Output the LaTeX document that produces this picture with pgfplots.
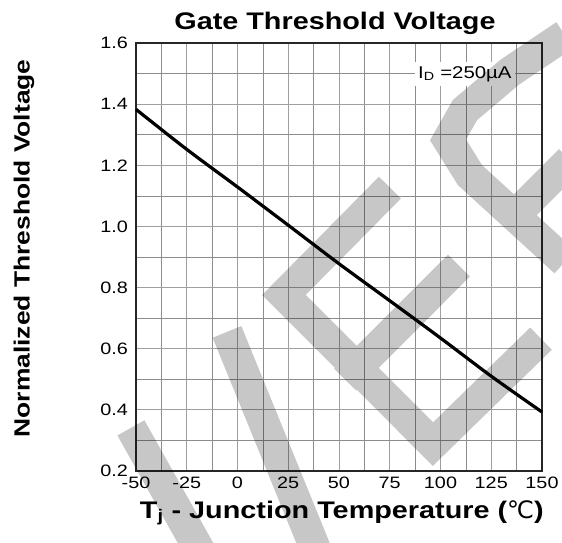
\documentclass[border=0pt]{standalone}
\usepackage{fontspec}
\setmainfont{Liberation Sans}[FakeStretch=1.2]
\newfontfamily\dejavu{DejaVu Sans}
\usepackage{pgfplots}
\pgfplotsset{compat=1.18}
\begin{document}
\begin{tikzpicture}
\useasboundingbox (-136pt,-71pt) rectangle (426pt,471pt);
\clip (-136pt,-71pt) rectangle (426pt,471pt);
\begin{axis}[
  scale only axis, width=406pt, height=428pt,
  xmin=-50, xmax=150, ymin=0.2, ymax=1.6,
  xtick={-50,-25,0,25,50,75,100,125,150},
  ytick={0.2,0.4,0.6,0.8,1.0,1.2,1.4,1.6},
  minor x tick num=1, minor y tick num=1,
  grid=both,
  major grid style={gray!75, line width=0.8pt},
  minor grid style={gray!90, line width=0.5pt},
  major tick length=0pt, minor tick length=0pt,
  axis line style={black!85, line width=1.2pt},
  clip=false,
  /pgf/number format/assume math mode=true,
  tick label style={font=\fontsize{16.5}{19}\selectfont},
  xticklabel style={anchor=north, inner sep=0pt, yshift=-6pt},
  yticklabel style={anchor=east, inner sep=0pt, xshift=-8pt, /pgf/number format/.cd, fixed, fixed zerofill, precision=1},
  title={Gate Threshold Voltage},
  title style={font=\bfseries\fontsize{24}{28}\selectfont, at={(axis description cs:0.49,1.035)}, anchor=base, yshift=-7pt},
  xlabel={T\textsubscript{j} - Junction Temperature ({\dejavu\mdseries ℃})},
  xlabel style={font=\bfseries\fontsize{24}{28}\selectfont, at={(axis description cs:0.507,-0.11)}, anchor=base},
  ylabel={Normalized Threshold Voltage},
  ylabel style={font=\bfseries\fontsize{22}{26}\selectfont, at={(axis description cs:-0.276,0.52)}, anchor=center},
]
\addplot[black, line width=3.2pt, smooth, forget plot] coordinates {
  (-50,1.383) (-25,1.252) (0,1.129) (25,1.004) (50,0.878) (75,0.757) (100,0.635) (125,0.510) (150,0.393)
};
\node[fill=white, inner xsep=3pt, inner ysep=4pt, anchor=base west, font=\fontsize{17}{20}\selectfont] at (axis cs:87.4,1.4855) {I\textsubscript{D} =250µA};
\addplot[draw=black, draw opacity=0.22, line width=31pt, line join=miter, line cap=butt, unbounded coords=jump, forget plot] coordinates {
  (75.1,1.127) (22.9,0.776) (96.3,0.288) (149.5,0.633) (0,nan)
  (53.0,0.499) (109.1,0.872) (0,nan)
  (-5.17,0.655) (40.6,-0.091) (0,nan)
  (-52.5,0.341) (-16.0,-0.091) (0,nan)
  (161.3,1.626) (134.2,1.505) (112.1,1.381) (103.7,1.283) (114.5,1.168) (161.3,0.884) (0,nan)
  (141.6,1.070) (163.8,1.217)
};
\end{axis}
\end{tikzpicture}
\end{document}
